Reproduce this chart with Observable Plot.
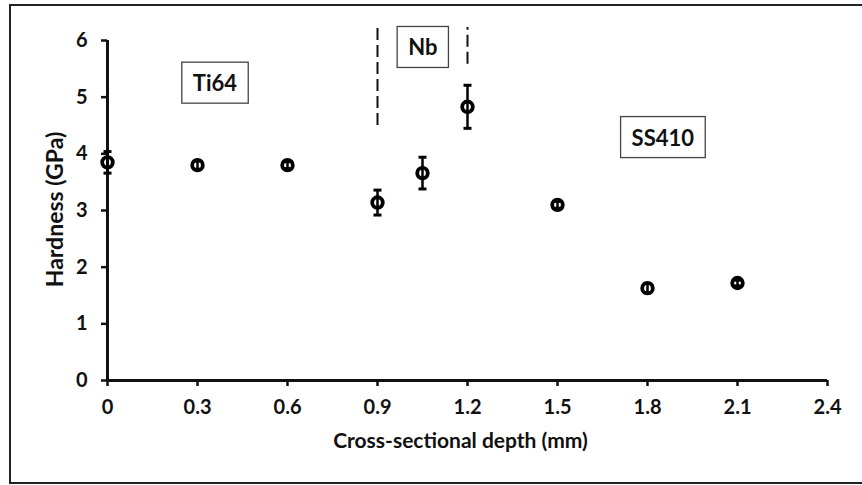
<!DOCTYPE html>
<html>
<head>
<meta charset="utf-8">
<script src="https://cdn.jsdelivr.net/npm/d3@7"></script>
<script src="https://cdn.jsdelivr.net/npm/@observablehq/plot@0.6"></script>
<style>
  html, body { margin: 0; padding: 0; background: #fff; }
  body { width: 862px; height: 485px; overflow: hidden; }
  svg { display: block; }
</style>
</head>
<body>
<div id="chart"></div>
<script>
// ---- data ----
const depth = [0, 0.3, 0.6, 0.9, 1.05, 1.2, 1.5, 1.8, 2.1];
const hardness = [3.85, 3.80, 3.80, 3.14, 3.66, 4.83, 3.10, 1.63, 1.72];
const hardnessErr = [0.19, 0.07, 0.06, 0.22, 0.28, 0.38, 0.06, 0.08, 0.05];

const xTicks = [0, 0.3, 0.6, 0.9, 1.2, 1.5, 1.8, 2.1, 2.4];
const yTicks = [0, 1, 2, 3, 4, 5, 6];

const dividerX = [0.9, 1.2];
const dividerTop = [6.30, 6.23];
const dividerBottom = [4.50, 5.58];

const regionNames = ["Ti64", "Nb", "SS410"];
const regionX = [0.358, 1.051, 1.851];
const regionY = [5.23, 5.86, 4.27];

const xLabel = "Cross-sectional depth (mm)";
const yLabel = "Hardness (GPa)";

// ---- tables ----
const points = depth.map((d, i) => ({x: d, y: hardness[i], e: hardnessErr[i]}));
const dividers = dividerX.map((d, i) => ({x: d, y1: dividerBottom[i], y2: dividerTop[i]}));
const regions = regionNames.map((n, i) => ({name: n, x: regionX[i], y: regionY[i]}));

const FONT = "Lato, 'Liberation Sans', sans-serif";

const capSymbol = {
  draw(context, size) {
    const w = Math.sqrt(size / Math.PI);
    context.moveTo(-w, 0);
    context.lineTo(w, 0);
  }
};

const plot = Plot.plot({
  width: 862,
  height: 485,
  marginLeft: 107,
  marginRight: 35,
  marginTop: 40,
  marginBottom: 105,
  style: {fontFamily: FONT, fontWeight: "bold", color: "#111", background: "white", overflow: "visible"},
  x: {domain: [0, 2.4]},
  y: {domain: [0, 6]},
  marks: [
    Plot.axisX({ticks: xTicks, tickFormat: d => d === 0 ? "0" : d.toFixed(1), tickSize: 6, tickPadding: 13,
      strokeWidth: 2.5, fontSize: 20, fontWeight: "bold", label: null, stroke: "#111"}),
    Plot.axisY({ticks: yTicks, tickFormat: d => String(d), tickSize: 6, tickPadding: 14,
      strokeWidth: 2.5, fontSize: 20, fontWeight: "bold", label: null, stroke: "#111"}),
    Plot.ruleY([0], {stroke: "#111", strokeWidth: 3}),
    Plot.ruleX([0], {stroke: "#111", strokeWidth: 3}),
    Plot.ruleX(dividers, {x: "x", y1: "y1", y2: "y2", stroke: "#111", strokeWidth: 2, strokeDasharray: "12,5", clip: false}),
    Plot.ruleX(points, {x: "x", y1: d => d.y - d.e, y2: d => d.y + d.e, stroke: "#000", strokeWidth: 2.5}),
    Plot.dot(points, {x: "x", y: d => d.y - d.e, symbol: capSymbol, r: 4, stroke: "#000", strokeWidth: 3}),
    Plot.dot(points, {x: "x", y: d => d.y + d.e, symbol: capSymbol, r: 4, stroke: "#000", strokeWidth: 3}),
    Plot.dot(points, {x: "x", y: "y", r: 5.3, stroke: "#000", strokeWidth: 3.8, fill: "none"}),
    Plot.text(regions, {x: "x", y: "y", text: "name", fontSize: 22, fontWeight: "bold", fill: "#111", className: "region-label"}),
    Plot.text([xLabel], {frameAnchor: "bottom", textAnchor: "middle", lineAnchor: "middle", dy: 61, dx: -7, fontSize: 21, fontWeight: "bold", fill: "#111"}),
    Plot.text([yLabel], {frameAnchor: "left", textAnchor: "middle", lineAnchor: "middle", dx: -52, dy: -1, rotate: -90, fontSize: 23, fontWeight: "bold", fill: "#111"})
  ]
});

document.getElementById("chart").appendChild(plot);

// boxes around region labels
const svg = d3.select(plot);
svg.selectAll("g.region-label text").each(function() {
  const b = this.getBBox();
  const padX = 11, padY = 8;
  d3.select(this.parentNode).insert("rect", () => this)
    .attr("x", b.x - padX).attr("y", b.y - padY + 1)
    .attr("width", b.width + 2 * padX).attr("height", b.height + 2 * padY - 2)
    .attr("fill", "white").attr("stroke", "#444").attr("stroke-width", 1.3)
    .attr("transform", this.getAttribute("transform"));
});

// outer border (chart area frame, cropped on the right)
svg.append("rect")
  .attr("x", 10).attr("y", 5).attr("width", 900).attr("height", 478)
  .attr("fill", "none").attr("stroke", "#222").attr("stroke-width", 2);
</script>
</body>
</html>
